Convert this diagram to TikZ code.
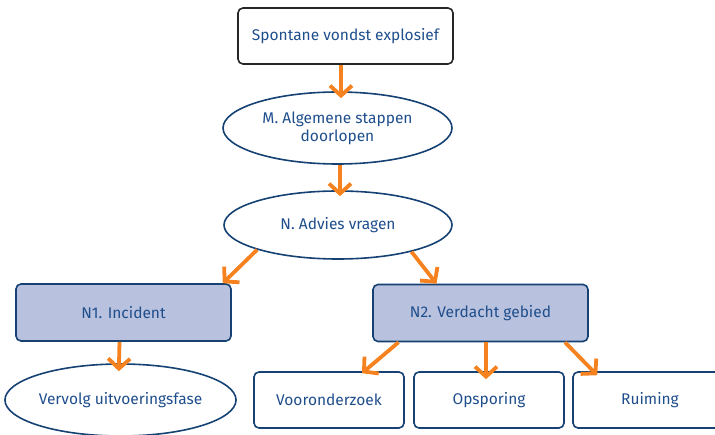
\documentclass[tikz,border=0pt]{standalone}
\usepackage{fontspec}
\setmainfont{Fira Sans}
\usetikzlibrary{arrows.meta,shapes.geometric}

\definecolor{rijkblauw}{HTML}{154273}
\definecolor{tekstblauw}{HTML}{1F4E8C}
\definecolor{lila}{HTML}{B8C1DD}
\definecolor{oranje}{HTML}{F5821F}

\tikzset{
  blok/.style={rectangle, rounded corners=5pt, draw=rijkblauw, line width=1.6pt,
    text=tekstblauw, minimum height=56pt, inner sep=0pt},
  ovaal/.style={ellipse, draw=rijkblauw, line width=1.6pt, text=tekstblauw,
    inner sep=0pt, align=center},
  pijl/.style={draw=oranje, line width=3.8pt, -{Straight Barb[length=10pt,width=22pt]}},
}

\begin{document}
\begin{tikzpicture}[x=1pt,y=-1pt,font=\fontsize{15.5}{18}\selectfont]

        \useasboundingbox (0,0) rectangle (715,435);

        \begin{scope}[every node/.style={blok}]
          \node[draw=black!85, minimum width=215pt] (vondst) at (345.5,36) {Spontane vondst explosief};
          \node[fill=lila, minimum width=215pt, minimum height=57pt] (n1) at (123.5,312.5) {N1. Incident};
          \node[fill=lila, minimum width=215pt, minimum height=57pt] (n2) at (480.5,313) {N2. Verdacht gebied};
          \node[minimum width=150pt] (voor) at (329,400) {Vooronderzoek};
          \node[minimum width=150pt] (ops)  at (489,400) {Opsporing};
          \node[minimum width=154pt] (ruim) at (650,400) {Ruiming};
        \end{scope}

        \begin{scope}[every node/.style={ovaal}]
          \node[minimum width=229pt, minimum height=72pt] (m) at (337.5,128) {M. Algemene stappen\\doorlopen};
          \node[minimum width=228pt, minimum height=68pt] (n) at (338,225) {N. Advies vragen};
          \node[minimum width=229pt, minimum height=72pt] (vervolg) at (120.5,400) {Vervolg uitvoeringsfase};
        \end{scope}

        \begin{scope}[every edge/.style={pijl}]
          \path ([xshift=-4.5pt]vondst.south) edge[shorten >=-7pt] ([xshift=3.5pt]m.north);
          \path ([xshift=2.5pt]m.south) edge[shorten >=-6pt] ([xshift=2pt]n.north);
          \path (n.197) edge ([xshift=-9pt]n1.north east);
          \path (n.340) edge ([xshift=-44pt]n2.north);
          \path ([xshift=-4pt]n1.south) edge[shorten >=-8pt] ([xshift=-1.5pt]vervolg.north);
          \path ([xshift=-82pt]n2.south) edge ([xshift=33pt,yshift=-2pt]voor.north);
          \path ([xshift=5.5pt]n2.south) edge[shorten >=-8pt] ([xshift=-3pt]ops.north);
          \path ([xshift=84.5pt]n2.south) edge ([xshift=25pt,yshift=-4pt]ruim.north west);
        \end{scope}

      \end{tikzpicture}
\end{document}
